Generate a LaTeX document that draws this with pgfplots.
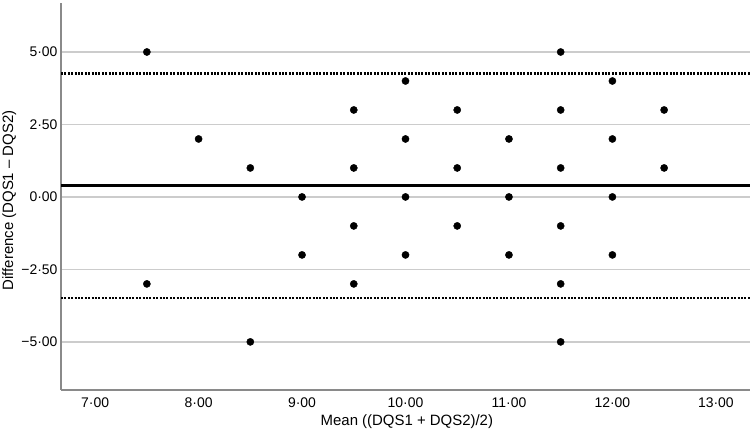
\documentclass[border=0pt]{standalone}
\usepackage{pgfplots}
\pgfplotsset{compat=1.18}
\usepackage{fontspec}
\setmainfont{Liberation Sans}
\definecolor{gridc}{HTML}{CCCCCC}
\definecolor{axc}{HTML}{8A8A8A}
\begin{document}
\begin{tikzpicture}
\path[use as bounding box] (0,0) rectangle (754bp,436bp);
\begin{axis}[
  at={(61bp,46bp)}, anchor=south west,
  scale only axis, width=689bp, height=387bp,
  xmin=6.67, xmax=13.33, ymin=-6.66, ymax=6.69,
  axis x line*=bottom, axis y line*=left,
  axis line style={draw=axc, line width=1.3bp},
  xtick={7,8,9,10,11,12,13},
  xticklabels={7·00,8·00,9·00,10·00,11·00,12·00,13·00},
  ytick={-5,-2.5,0,2.5,5},
  yticklabels={−5·00,−2·50,0·00,2·50,5·00},
  major tick length=0pt,
  ymajorgrids,
  grid style={draw=gridc, line width=1.3bp},
  tick label style={font=\fontsize{14}{15}\selectfont, text=black},
  xticklabel style={anchor=center, yshift=-13bp},
  yticklabel style={anchor=east, xshift=0bp},
  xlabel={Mean ((DQS1 + DQS2)/2)},
  ylabel={Difference (DQS1 – DQS2)},
  label style={font=\fontsize{15}{16}\selectfont, text=black},
  xlabel style={at={(axis description cs:0.502,0)}, anchor=center, yshift=-32bp},
  ylabel style={at={(axis description cs:-0.075,0.49)}, anchor=center},
  clip=false,
]
\addplot[black, line width=3bp] coordinates {(6.67,0.38) (13.33,0.38)};
\addplot[black, line width=2.6bp, dash pattern=on 2bp off 1.4bp] coordinates {(6.67,4.25) (13.33,4.25)};
\addplot[black, line width=2.6bp, dash pattern=on 2bp off 1.4bp] coordinates {(6.67,-3.49) (13.33,-3.49)};
\addplot[only marks, mark=*, mark size=3.6bp, black] coordinates {
(7.5,5) (7.5,-3)
(8,2)
(8.5,1) (8.5,-5)
(9,0) (9,-2)
(9.5,3) (9.5,1) (9.5,-1) (9.5,-3)
(10,4) (10,2) (10,0) (10,-2)
(10.5,3) (10.5,1) (10.5,-1)
(11,2) (11,0) (11,-2)
(11.5,5) (11.5,3) (11.5,1) (11.5,-1) (11.5,-3) (11.5,-5)
(12,4) (12,2) (12,0) (12,-2)
(12.5,3) (12.5,1)
};
\end{axis}
\end{tikzpicture}
\end{document}
